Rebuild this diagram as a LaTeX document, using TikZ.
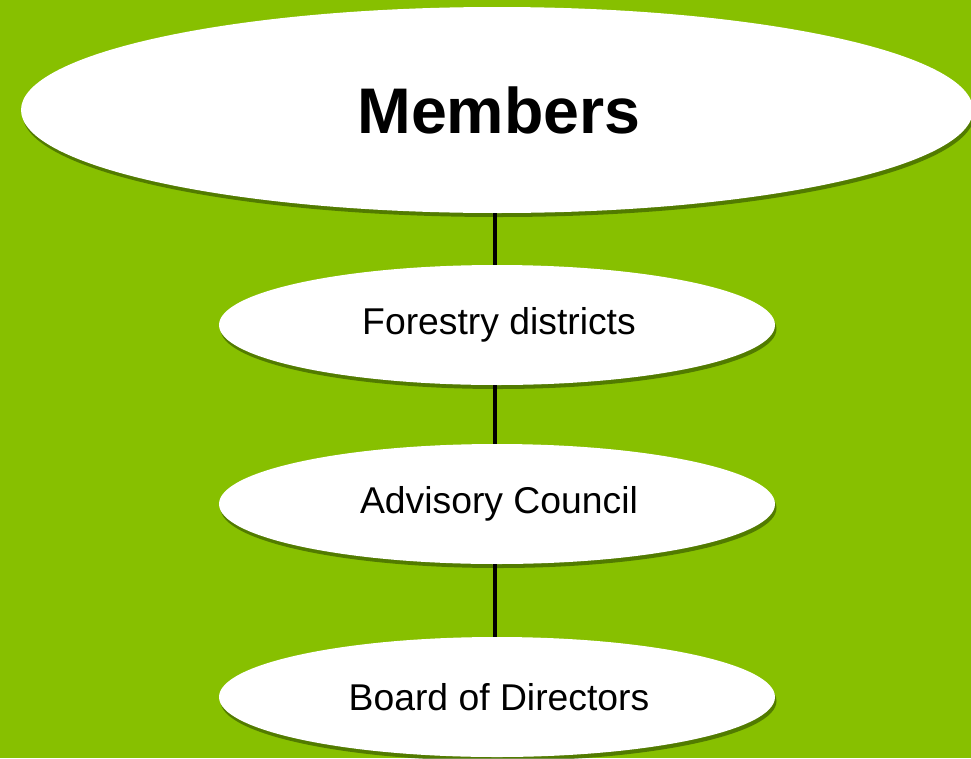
\documentclass[tikz,border=0pt]{standalone}
\usepackage{fontspec}
\setmainfont{Liberation Sans}
\usetikzlibrary{shapes.geometric,shadows}
\definecolor{bggreen}{RGB}{135,192,0}
\definecolor{shadowgreen}{RGB}{60,95,0}
\tikzset{
  oval/.style={ellipse, fill=white, inner sep=0pt,
    drop shadow={shadow xshift=1.5pt, shadow yshift=-4pt, fill=shadowgreen, opacity=0.7}},
  bigoval/.style={oval, minimum width=952pt, minimum height=206pt, font=\fontsize{64.5}{70}\selectfont\bfseries},
  smalloval/.style={oval, minimum width=556pt, minimum height=120pt, font=\fontsize{37.3}{42}\selectfont},
  link/.style={line width=3.5pt, black}
}
\begin{document}
\begin{tikzpicture}[x=1pt,y=-1pt]
\fill[bggreen] (0,0) rectangle (971,758);
\useasboundingbox (0,0) rectangle (971,758);
\node[bigoval] (members) at (497,110) {\hspace*{4pt}Members};
\node[smalloval] (forestry) at (497,325) {\hspace*{4pt}Forestry districts};
\node[smalloval] (advisory) at (497,504) {\hspace*{4pt}Advisory Council};
\node[smalloval] (board) at (497,697) {\hspace*{4pt}Board of Directors};
\draw[link] (members.south -| 495,0) -- (forestry.north -| 495,0);
\draw[link] (forestry.south -| 495,0) -- (advisory.north -| 495,0);
\draw[link] (advisory.south -| 495,0) -- (board.north -| 495,0);
\end{tikzpicture}
\end{document}
